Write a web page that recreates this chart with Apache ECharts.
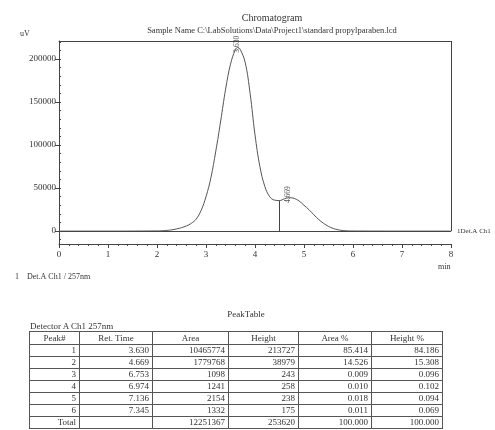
<!DOCTYPE html>
<html>
<head>
<meta charset="utf-8">
<script src="https://cdn.jsdelivr.net/npm/echarts@6/dist/echarts.min.js"></script>
<style>
  body { margin: 0; background: #fff; }
  #wrap { position: relative; width: 495px; height: 430px; }
  #chart { width: 495px; height: 430px; }
  .note { position: absolute; font-family: "Liberation Serif"; color: #333; white-space: nowrap; }
  #peaktable { position: absolute; left: 29px; top: 331px; border-collapse: collapse; table-layout: fixed;
    font-family: "Liberation Serif"; font-size: 9px; color: #333; }
  #peaktable td, #peaktable th { border: 1px solid #555; padding: 0 3px; height: 11px; line-height: 11px;
    text-align: right; font-weight: normal; overflow: hidden; }
  #peaktable th { text-align: center; height: 12px; }
</style>
</head>
<body>
<div id="wrap">
  <div id="chart"></div>
  <div class="note" style="left:0;width:492px;top:309px;text-align:center;font-size:9px;">PeakTable</div>
  <div class="note" style="left:30px;top:321px;font-size:9px;">Detector A Ch1 257nm</div>
  <table id="peaktable">
    <colgroup>
      <col style="width:50px"><col style="width:73px"><col style="width:76px">
      <col style="width:70px"><col style="width:73px"><col style="width:71px">
    </colgroup>
    <thead></thead>
    <tbody></tbody>
  </table>
</div>
<script>
// chromatogram trace (min, uV)
var times = [0, 1.0, 2.0, 2.2, 2.4, 2.6, 2.7, 2.8, 2.9, 3.0, 3.1, 3.2, 3.3, 3.4, 3.5, 3.6, 3.65, 3.7,
  3.8, 3.9, 4.0, 4.1, 4.2, 4.3, 4.4, 4.5, 4.6, 4.7, 4.8, 4.9, 5.0, 5.1, 5.2, 5.3, 5.4, 5.5, 5.6,
  5.7, 5.8, 6.0, 7.0, 8.0];
var signal = [0, 0, 200, 800, 2500, 6000, 9000, 14000, 24000, 40000, 62000, 93000, 128000, 165000,
  194000, 211000, 213700, 211000, 196000, 160000, 112000, 75000, 52000, 40000, 36000, 35500, 37500,
  38900, 38000, 35000, 30000, 25000, 19000, 13500, 9000, 5500, 3000, 1500, 600, 100, 0, 0];
var dropTime = 4.5;

// peak table
var peakNo = [1, 2, 3, 4, 5, 6];
var retTimes = [3.630, 4.669, 6.753, 6.974, 7.136, 7.345];
var areas = [10465774, 1779768, 1098, 1241, 2154, 1332];
var heights = [213727, 38979, 243, 258, 238, 175];
var areaPct = [85.414, 14.526, 0.009, 0.010, 0.018, 0.011];
var heightPct = [84.186, 15.308, 0.096, 0.102, 0.094, 0.069];

var headers = ['Peak#', 'Ret. Time', 'Area', 'Height', 'Area %', 'Height %'];
var yTicks = [0, 50000, 100000, 150000, 200000];
var yMinor = [];
for (var v = -10000; v <= 220000; v += 10000) yMinor.push(v);

var xMin = 0, xMax = 8, yMin = -15000, yMax = 221000;
var ink = '#444';
var font = 'Liberation Serif';

var chart = echarts.init(document.getElementById('chart'), null, { renderer: 'canvas' });

var trace = times.map(function (t, i) { return [t, signal[i]]; });
var dropValue = signal[times.indexOf(dropTime)];
var labelled = retTimes.slice(0, 2).map(function (t, i) { return [t, heights[i]]; });

var option = {
  animation: false,
  backgroundColor: '#fff',
  title: {
    text: 'Chromatogram',
    subtext: 'Sample Name C:\\LabSolutions\\Data\\Project1\\standard propylparaben.lcd',
    left: 267, top: 8, textAlign: 'center', itemGap: 3,
    textStyle: { fontFamily: font, fontSize: 10, fontWeight: 'normal', color: '#333' },
    subtextStyle: { fontFamily: font, fontSize: 8.5, color: '#333' }
  },
  grid: { left: 59, right: 44, top: 41, bottom: 186 },
  xAxis: [{
    type: 'value', min: xMin, max: xMax, interval: 1,
    axisLine: { onZero: false, lineStyle: { color: ink } },
    axisTick: { length: 4, lineStyle: { color: ink } },
    minorTick: { show: true, splitNumber: 5, length: 2, lineStyle: { color: ink } },
    axisLabel: { color: '#333', fontFamily: font, fontSize: 9, margin: 6 },
    splitLine: { show: false }
  }, {
    type: 'value', min: xMin, max: xMax, position: 'top',
    axisLine: { show: true, onZero: false, lineStyle: { color: ink } },
    axisTick: { show: false }, axisLabel: { show: false }, splitLine: { show: false }
  }],
  yAxis: [{
    type: 'value', min: yMin, max: yMax,
    axisLine: { show: true, onZero: false, lineStyle: { color: ink } },
    axisTick: { show: true, length: 4, customValues: yTicks, lineStyle: { color: ink } },
    axisLabel: { customValues: yTicks, formatter: function (v) { return String(v); },
      color: '#333', fontFamily: font, fontSize: 9, margin: 3 },
    splitLine: { show: false }
  }, {
    type: 'value', min: yMin, max: yMax, position: 'left',
    axisLine: { show: false, onZero: false },
    axisTick: { show: true, inside: true, length: 2, customValues: yMinor, lineStyle: { color: ink } },
    axisLabel: { show: false }, splitLine: { show: false }
  }],
  series: [{
    type: 'line',
    data: trace,
    smooth: 0.4,
    symbol: 'none',
    silent: true,
    lineStyle: { color: '#555', width: 1 },
    markLine: {
      silent: true, symbol: 'none', animation: false,
      lineStyle: { color: ink, width: 1, type: 'solid' },
      label: { show: false },
      data: [
        { yAxis: 0, label: { show: true, position: 'end', formatter: '1Det.A Ch1', color: '#333',
          fontFamily: font, fontSize: 7, distance: 6 } },
        [{ coord: [dropTime, 0] }, { coord: [dropTime, dropValue] }],
        [{ coord: [xMax, 0] }, { coord: [xMax, yMax] }]
      ]
    }
  }, {
    type: 'scatter',
    data: labelled,
    symbolSize: 0,
    silent: true,
    label: {
      show: true, position: 'inside', rotate: 90, offset: [3, 0],
      formatter: function (p) { return p.value[0].toFixed(3); },
      color: '#222', fontFamily: font, fontSize: 7.5
    }
  }],
  graphic: [
    { type: 'text', left: 20, top: 30, style: { text: 'uV', fontFamily: font, fontSize: 8, fill: '#333' } },
    { type: 'text', left: 438, top: 263, style: { text: 'min', fontFamily: font, fontSize: 8, fill: '#333' } },
    { type: 'text', left: 15, top: 273, style: { text: '1    Det.A Ch1 / 257nm', fontFamily: font, fontSize: 8, fill: '#333' } }
  ]
};
chart.setOption(option);

// peak table rows
var thead = document.querySelector('#peaktable thead');
var tbody = document.querySelector('#peaktable tbody');
thead.innerHTML = '<tr>' + headers.map(function (h) { return '<th>' + h + '</th>'; }).join('') + '</tr>';
var rows = peakNo.map(function (n, i) {
  return [n, retTimes[i].toFixed(3), areas[i], heights[i], areaPct[i].toFixed(3), heightPct[i].toFixed(3)];
});
var sum = function (a) { return a.reduce(function (s, x) { return s + x; }, 0); };
rows.push(['Total', '', sum(areas), sum(heights), '100.000', '100.000']);
tbody.innerHTML = rows.map(function (r) {
  return '<tr>' + r.map(function (c) { return '<td>' + c + '</td>'; }).join('') + '</tr>';
}).join('');
</script>
</body>
</html>
